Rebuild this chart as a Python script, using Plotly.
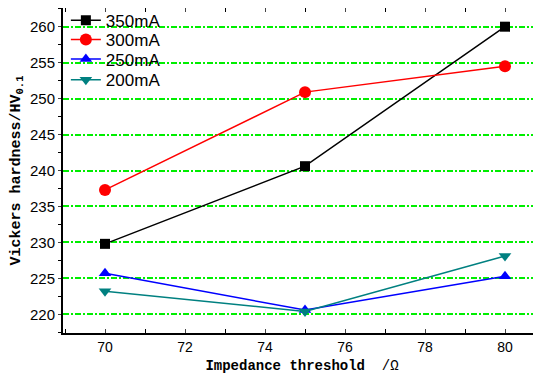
import plotly.graph_objects as go

x_vals = [70, 75, 80]
series_names = ["350mA", "300mA", "250mA", "200mA"]
hv_350 = [229.8, 240.6, 260.0]
hv_300 = [237.3, 250.9, 254.5]
hv_250 = [225.7, 220.6, 225.3]
hv_200 = [223.2, 220.4, 228.1]
y_ticks = [220, 225, 230, 235, 240, 245, 250, 255, 260]
x_ticks = [70, 72, 74, 76, 78, 80]

styles = [
    ("#000000", "square", 10),
    ("#ff0000", "circle", 12),
    ("#0000ff", "triangle-up", 11),
    ("#008080", "triangle-down", 11),
]
legend_ids = ["legend", "legend2", "legend3", "legend4"]
legend_y = [0.961, 0.9015, 0.842, 0.778]

fig = go.Figure()
for name, ys, (col, sym, sz), lid in zip(series_names, [hv_350, hv_300, hv_250, hv_200], styles, legend_ids):
    fig.add_trace(go.Scatter(
        x=x_vals, y=ys, name=name, mode="lines+markers",
        line=dict(color=col, width=1.5),
        marker=dict(symbol=sym, size=sz, color=col),
        legend=lid,
    ))

layout_legends = {}
for lid, ly in zip(legend_ids, legend_y):
    layout_legends[lid] = dict(x=0.006, y=ly, xanchor="left", yanchor="middle",
                               bgcolor="rgba(0,0,0,0)", font=dict(size=17),
                               itemwidth=30)

# page body has an 8px margin; the figure is sized so it ends at the window edge
fig.update_layout(
    width=533, height=366,
    margin=dict(l=55, r=0, t=0, b=41, autoexpand=False),
    paper_bgcolor="white", plot_bgcolor="white",
    font=dict(family="Arial, Liberation Sans", color="black", size=14),
    showlegend=True,
    **layout_legends,
)
fig.update_xaxes(
    range=[68.95, 80.9], tickvals=x_ticks, ticks="inside", ticklen=4,
    minor=dict(dtick=1, tick0=69, ticks="inside", ticklen=4, tickcolor="black"),
    showline=True, linecolor="black", linewidth=2, mirror="ticks",
    showgrid=False, zeroline=False, tickfont=dict(size=14),
    automargin=False,
    title=dict(text="<b>Impedance threshold</b>  /Ω",
               font=dict(family="Liberation Mono", size=14)),
)
fig.update_yaxes(
    range=[217.4, 262.6], tickvals=y_ticks, ticks="outside", ticklen=3,
    minor=dict(dtick=2.5, tick0=220, ticks="outside", ticklen=3, tickcolor="black"),
    showline=True, linecolor="black", linewidth=2, mirror=True,
    showgrid=True, gridcolor="#00ee00", gridwidth=1.5, griddash="6px,2px,2px,2px",
    zeroline=False, tickfont=dict(size=15),
    automargin=False,
    title=dict(text="<b>Vickers hardness/HV<sub>0.1</sub></b>",
               font=dict(family="Liberation Mono", size=15)),
)

fig.write_html("out.html")
